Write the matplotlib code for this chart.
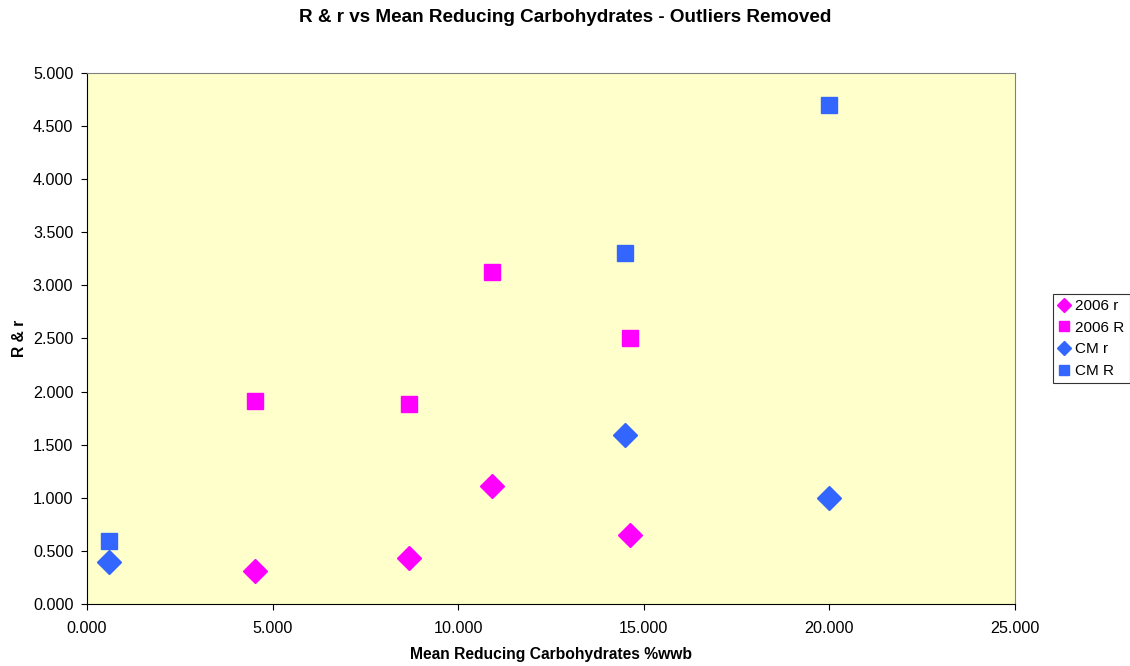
import matplotlib.pyplot as plt
from matplotlib.ticker import FormatStrFormatter, MultipleLocator

plt.rcParams['font.family'] = ['Liberation Sans', 'DejaVu Sans']

# data
x_2006 = [4.53, 8.67, 10.91, 14.63]
r_2006 = [0.311, 0.433, 1.111, 0.650]
R_2006 = [1.911, 1.883, 3.126, 2.505]

x_cm = [0.59, 14.49, 19.99]
r_cm = [0.395, 1.591, 0.998]
R_cm = [0.593, 3.305, 4.699]

magenta = '#FF00FF'
blue = '#3366FF'

fig = plt.figure(figsize=(11.3, 6.66), dpi=100)
ax = fig.add_axes([0.077, 0.0931, 0.821, 0.7973])
ax.set_facecolor('#FFFFCC')

ax.plot(x_2006, r_2006, 'D', color=magenta, markersize=12, label='2006 r', linestyle='none')
ax.plot(x_2006, R_2006, 's', color=magenta, markersize=11.5, label='2006 R', linestyle='none')
ax.plot(x_cm, r_cm, 'D', color=blue, markersize=12, label='CM r', linestyle='none')
ax.plot(x_cm, R_cm, 's', color=blue, markersize=11.5, label='CM R', linestyle='none')

ax.set_xlim(0, 25)
ax.set_ylim(0, 5)
ax.xaxis.set_major_locator(MultipleLocator(5))
ax.yaxis.set_major_locator(MultipleLocator(0.5))
ax.xaxis.set_major_formatter(FormatStrFormatter('%.3f'))
ax.yaxis.set_major_formatter(FormatStrFormatter('%.3f'))
ax.tick_params(labelsize=11.6, length=4.3, color='black')
ax.tick_params(axis='x', pad=8)
ax.tick_params(axis='y', pad=5.5)

for s in ['top', 'right']:
    ax.spines[s].set_color('#808080')
for s in ['left', 'bottom']:
    ax.spines[s].set_color('black')

fig.suptitle('R & r vs Mean Reducing Carbohydrates - Outliers Removed',
             fontsize=13.6, fontweight='bold', x=0.5, y=0.973, va='center')
ax.set_xlabel('Mean Reducing Carbohydrates %wwb', fontsize=11.25, fontweight='bold', labelpad=8)
ax.set_ylabel('R & r', fontsize=11.25, fontweight='bold', labelpad=4)

leg = ax.legend(loc='center left', bbox_to_anchor=(1.041, 0.5), fontsize=11,
                frameon=True, fancybox=False, markerscale=0.6,
                handlelength=0.8, handletextpad=0.3, borderpad=0.35,
                labelspacing=0.5, borderaxespad=0)
leg.get_frame().set_edgecolor('black')
leg.get_frame().set_linewidth(0.8)

fig.savefig('out.png', dpi=100)
